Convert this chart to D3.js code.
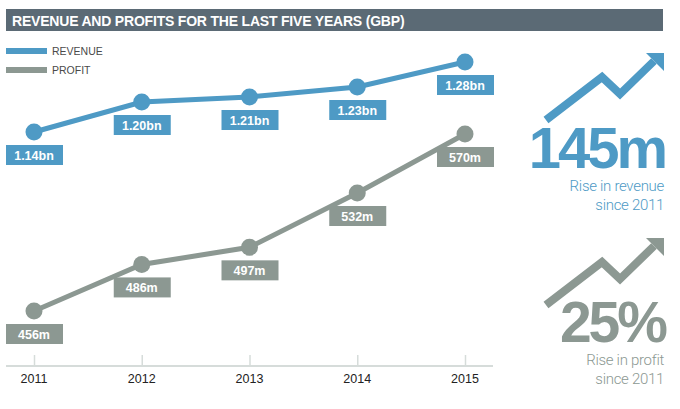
<!DOCTYPE html>
<html>
<head>
<meta charset="utf-8">
<script src="https://cdn.jsdelivr.net/npm/d3@7"></script>
<style>
  body { margin: 0; background: #fff; }
  svg { display: block; font-family: "Liberation Sans", Arial, sans-serif; }
</style>
</head>
<body>
<div id="chart"></div>
<script>
// Data
const years = ["2011", "2012", "2013", "2014", "2015"];
const revenue = [1.14, 1.20, 1.21, 1.23, 1.28];   // GBP bn
const profit = [456, 486, 497, 532, 570];         // GBP m
const seriesNames = ["REVENUE", "PROFIT"];
const title = "REVENUE AND PROFITS FOR THE LAST FIVE YEARS (GBP)";
const revenueRise = "145m";
const profitRise = "25%";

const width = 680, height = 409;
const blue = "#4e9ac5", grey = "#8c9892";

const svg = d3.select("#chart")
              .append("svg")
              .attr("width", width)
              .attr("height", height);

// Title bar
svg.append("rect")
   .attr("x", 6).attr("y", 9)
   .attr("width", 657).attr("height", 22)
   .attr("fill", "#5b6a75");
svg.append("text")
   .attr("x", 12).attr("y", 26)
   .attr("fill", "#fff")
   .attr("font-size", 14)
   .attr("font-weight", "bold")
   .attr("letter-spacing", -0.2)
   .text(title);

// Legend
const legend = svg.append("g");
seriesNames.forEach((name, i) => {
    const y = 51 + i * 19;
    legend.append("line")
          .attr("x1", 6).attr("x2", 47)
          .attr("y1", y).attr("y2", y)
          .attr("stroke", i === 0 ? blue : grey)
          .attr("stroke-width", 6);
    legend.append("text")
          .attr("x", 52).attr("y", y + 4)
          .attr("font-size", 10.5)
          .attr("fill", "#4a4a4a")
          .text(name);
});

// Scales
const x = d3.scalePoint().domain(years).range([34, 465]);
const yRev = d3.scaleLinear().domain([1.14, 1.28]).range([132, 62]);
const yProf = d3.scaleLinear().domain([456, 570]).range([311, 134]);

// X axis
const axis = svg.append("g")
                .attr("transform", "translate(0,366)")
                .call(d3.axisTop(x).tickSize(11).tickFormat(""));
axis.select(".domain").remove();
axis.selectAll(".tick line").attr("stroke", "#d6dcda").attr("stroke-width", 1.5);
svg.append("line")
   .attr("x1", 6).attr("x2", 493)
   .attr("y1", 366).attr("y2", 366)
   .attr("stroke", "#d6dcda").attr("stroke-width", 2);
svg.append("g")
   .selectAll("text")
   .data(years)
   .join("text")
   .attr("x", d => x(d))
   .attr("y", 383)
   .attr("text-anchor", "middle")
   .attr("font-size", 12.5)
   .attr("fill", "#222")
   .text(d => d);

// Draw one series: line, dots and labelled boxes
function drawSeries(values, yScale, color, fmt) {
    const pts = years.map((yr, i) => ({ x: x(yr), y: yScale(values[i]), v: values[i] }));
    const g = svg.append("g");
    g.append("path")
     .datum(pts)
     .attr("fill", "none")
     .attr("stroke", color)
     .attr("stroke-width", 5)
     .attr("d", d3.line().x(d => d.x).y(d => d.y));
    g.selectAll("circle")
     .data(pts)
     .join("circle")
     .attr("cx", d => d.x).attr("cy", d => d.y)
     .attr("r", 8.5)
     .attr("fill", color);
    g.selectAll("rect.lbl")
     .data(pts)
     .join("rect")
     .attr("class", "lbl")
     .attr("x", d => d.x - 28).attr("y", d => d.y + 13)
     .attr("width", 57).attr("height", 20)
     .attr("fill", color);
    g.selectAll("text")
     .data(pts)
     .join("text")
     .attr("x", d => d.x).attr("y", d => d.y + 28)
     .attr("text-anchor", "middle")
     .attr("font-size", 12.5)
     .attr("font-weight", "bold")
     .attr("fill", "#fff")
     .text(d => fmt(d.v));
}
drawSeries(revenue, yRev, blue, v => d3.format(".2f")(v) + "bn");
drawSeries(profit, yProf, grey, v => v + "m");

// Zigzag arrow icon
function arrow(dy, color) {
    const g = svg.append("g").attr("transform", `translate(0,${dy})`);
    g.append("path")
     .attr("d", "M546,120 L602,77 L620,94 L654,61")
     .attr("fill", "none")
     .attr("stroke", color)
     .attr("stroke-width", 8)
     .attr("stroke-linejoin", "miter");
    g.append("path")
     .attr("d", "M646,53 L664,53 L664,71 Z")
     .attr("fill", color);
}
arrow(0, blue);
arrow(185, grey);

// Callouts
function callout(big, y, lines, color, size) {
    svg.append("text")
       .attr("x", 665).attr("y", y)
       .attr("text-anchor", "end")
       .attr("font-size", size)
       .attr("font-weight", "bold")
       .attr("letter-spacing", -3)
       .attr("fill", color)
       .text(big);
    lines.forEach((t, i) => {
        svg.append("text")
           .attr("x", 664).attr("y", y + 23 + i * 19)
           .attr("text-anchor", "end")
           .attr("font-family", "Roboto, 'Liberation Sans', sans-serif")
           .attr("font-weight", 300)
           .attr("font-size", 15)
           .attr("letter-spacing", -0.3)
           .attr("fill", color)
           .text(t);
    });
}
callout(revenueRise, 168, ["Rise in revenue", "since 2011"], blue, 58);
callout(profitRise, 342, ["Rise in profit", "since 2011"], grey, 57);
</script>
</body>
</html>
